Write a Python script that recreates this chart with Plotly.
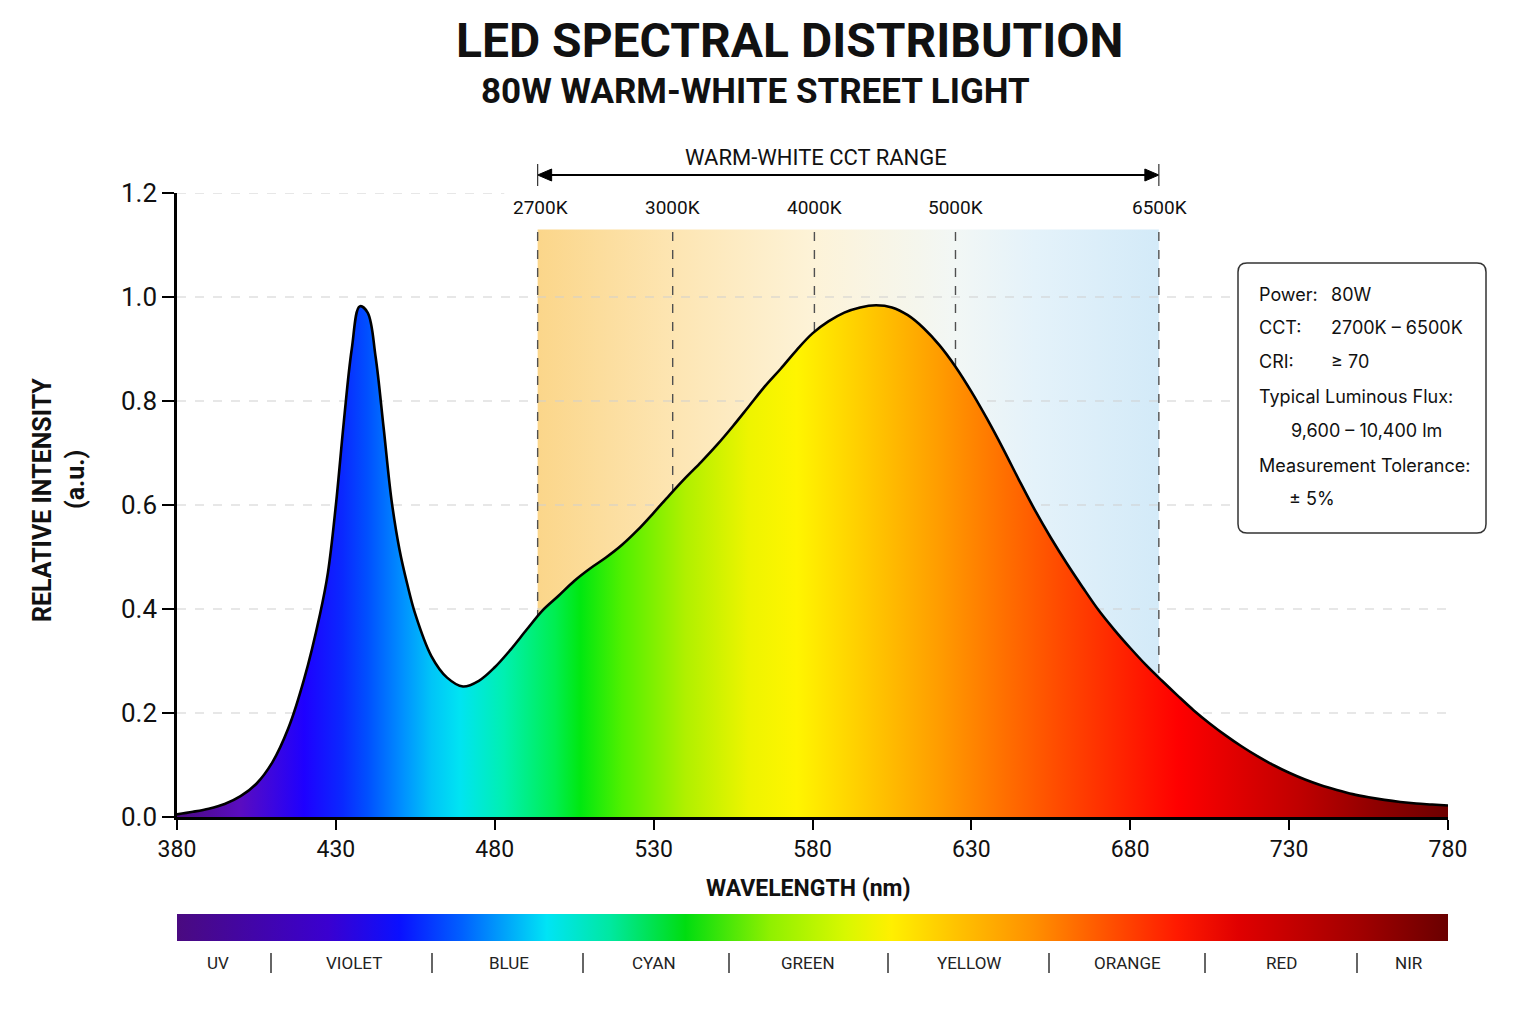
import plotly.graph_objects as go

# ---------------- data ----------------
wavelength = [380, 385, 390, 395, 400, 405, 410, 415, 420, 425, 427.5, 430, 432.5, 435, 437.5,
              440, 442.5, 445, 447.5, 450, 452.5, 455, 460, 465, 470, 475, 480, 485, 490, 495,
              500, 505, 510, 515, 520, 525, 530, 535, 540, 545, 550, 555, 560, 565, 570, 575,
              580, 585, 590, 595, 600, 605, 610, 615, 620, 625, 630, 635, 640, 645, 650, 655,
              660, 665, 670, 675, 680, 685, 690, 695, 700, 705, 710, 715, 720, 725, 730, 735,
              740, 745, 750, 755, 760, 765, 770, 775, 780]
intensity = [0.005, 0.010, 0.016, 0.025, 0.040, 0.064, 0.105, 0.170, 0.265, 0.390, 0.470, 0.600,
             0.760, 0.900, 0.982, 0.970, 0.885, 0.750, 0.610, 0.515, 0.447, 0.390, 0.310, 0.268,
             0.251, 0.262, 0.288, 0.322, 0.360, 0.397, 0.425, 0.454, 0.478, 0.499, 0.523, 0.552,
             0.585, 0.619, 0.652, 0.683, 0.716, 0.752, 0.790, 0.828, 0.862, 0.898, 0.930, 0.953,
             0.970, 0.980, 0.984, 0.980, 0.965, 0.940, 0.907, 0.866, 0.818, 0.765, 0.708, 0.648,
             0.590, 0.537, 0.488, 0.442, 0.398, 0.360, 0.325, 0.292, 0.262, 0.233, 0.205, 0.180,
             0.157, 0.136, 0.117, 0.100, 0.085, 0.072, 0.061, 0.052, 0.044, 0.038, 0.033, 0.029,
             0.026, 0.024, 0.022]

cct_labels = ["2700K", "3000K", "4000K", "5000K", "6500K"]
cct_wavelength = [493.5, 536, 580.6, 625, 689]
band_top = 1.13

x_ticks = [380, 430, 480, 530, 580, 630, 680, 730, 780]
y_ticks = [0.0, 0.2, 0.4, 0.6, 0.8, 1.0, 1.2]

region_labels = ["UV", "VIOLET", "BLUE", "CYAN", "GREEN", "YELLOW", "ORANGE", "RED", "NIR"]

info_rows = [("Power:", "80W"), ("CCT:", "2700K – 6500K"), ("CRI:", "≥ 70"),
             ("Typical Luminous Flux:", ""), ("", "9,600 – 10,400 lm"),
             ("Measurement Tolerance:", ""), ("", "± 5%")]

spectrum_colors = [
    (0.0, "#4b0a80"), (0.05, "#5a0cc0"), (0.10, "#1e00ff"), (0.13, "#0a28ff"),
    (0.15, "#0050ff"), (0.1775, "#0090ff"), (0.20, "#00c4f8"), (0.2225, "#00e4f2"),
    (0.2575, "#00f0b0"), (0.2975, "#00ee50"), (0.3175, "#00e810"), (0.35, "#50f000"),
    (0.40, "#b0f000"), (0.45, "#eef400"), (0.4875, "#fff500"), (0.525, "#ffd800"),
    (0.55, "#ffc400"), (0.60, "#ff9c00"), (0.65, "#ff7000"), (0.695, "#ff4a00"),
    (0.7375, "#ff2800"), (0.7875, "#ff0000"), (0.8375, "#dd0000"), (0.8825, "#c00000"),
    (0.9425, "#900000"), (1.0, "#6e0000")]

bar_colors = [
    (0.0, "#4a0a80"), (0.119, "#3a00d0"), (0.175, "#0a10ff"), (0.224, "#0060ff"),
    (0.291, "#00e4f5"), (0.341, "#00e8a0"), (0.40, "#00dd10"), (0.467, "#90f000"),
    (0.526, "#d8f800"), (0.562, "#fff000"), (0.616, "#ffc000"), (0.674, "#ff9000"),
    (0.734, "#ff5000"), (0.787, "#ff1a00"), (0.835, "#e00000"), (0.932, "#a00000"),
    (1.0, "#6a0000")]

band_colors = [(0.0, "#fbd68a"), (0.217, "#fde5b2"), (0.446, "#fdf3d8"),
               (0.673, "#f2f7f5"), (0.80, "#e4f2fa"), (1.0, "#d3eaf8")]

# ---------------- layout geometry ----------------
W, H = 1536, 1024
L, R, T, B = 177, 88, 193, 40
PW, PH = W - L - R, H - T - B
XMIN, XMAX = 380, 780


def px(p):  # pixel x -> paper
    return (p - L) / PW


def py(p):  # pixel y -> paper
    return (H - B - p) / PH


def nx(nm):  # wavelength -> paper x
    return (nm - XMIN) / (XMAX - XMIN)


FONT = "Roboto, 'DejaVu Sans', sans-serif"
INFO_FONT = "Inter, 'Open Sans', sans-serif"

fig = go.Figure()

# CCT band
fig.add_trace(go.Scatter(
    x=[cct_wavelength[0], cct_wavelength[-1]], y=[band_top, band_top], mode="none",
    fill="tozeroy", fillgradient=dict(type="horizontal", colorscale=band_colors),
    hoverinfo="skip"))

# gridlines (above band, below spectrum)
gx, gy = [], []
for v in y_ticks[1:]:
    x_end = XMAX if v < 1.1 else 483
    gx += [XMIN, x_end, None]
    gy += [v, v, None]
fig.add_trace(go.Scatter(x=gx, y=gy, mode="lines", hoverinfo="skip",
                         line=dict(color="#cfcfcf", width=1, dash="dash")))

# CCT dashed lines
cx, cy = [], []
for w in cct_wavelength:
    cx += [w, w, None]
    cy += [0, band_top, None]
fig.add_trace(go.Scatter(x=cx, y=cy, mode="lines", hoverinfo="skip",
                         line=dict(color="#505050", width=1.4, dash="dash")))

# spectrum
fig.add_trace(go.Scatter(
    x=wavelength, y=intensity, mode="lines",
    line=dict(color="black", width=2.6, shape="spline", smoothing=1.0),
    fill="tozeroy",
    fillgradient=dict(type="horizontal", colorscale=spectrum_colors, start=XMIN, stop=XMAX),
    hoverinfo="skip"))

# colour bar
fig.add_trace(go.Scatter(
    x=[XMIN, XMAX, XMAX, XMIN, XMIN], y=[0, 0, 1, 1, 0], mode="none", fill="toself",
    fillgradient=dict(type="horizontal", colorscale=bar_colors, start=XMIN, stop=XMAX),
    xaxis="x", yaxis="y2", hoverinfo="skip"))

y_dom0 = py(817)
fig.update_layout(
    width=W, height=H, margin=dict(l=L, r=R, t=T, b=B),
    paper_bgcolor="white", plot_bgcolor="white", showlegend=False, hovermode=False,
    xaxis=dict(range=[XMIN, XMAX], domain=[0, 1], anchor="y", tickvals=x_ticks,
               ticks="outside", ticklen=10, tickwidth=2, tickcolor="black",
               showline=True, linecolor="black", linewidth=2.5, showgrid=False, zeroline=False,
               tickfont=dict(family=FONT, size=23, color="#111")),
    yaxis=dict(range=[0, 1.2], domain=[y_dom0, 1], anchor="x", tickvals=y_ticks,
               ticktext=[f"{v:.1f}" for v in y_ticks],
               ticks="outside", ticklen=12, tickwidth=2, tickcolor="black",
               showline=True, linecolor="black", linewidth=2.5, showgrid=False, zeroline=False,
               tickfont=dict(family=FONT, size=26, color="#111")),
    yaxis2=dict(range=[0, 1], domain=[py(941), py(914)], anchor="x", visible=False,
                fixedrange=True),
)

ann = []
shapes = []


def label(xp, yp, text, size, family=FONT, color="#111", xanchor="center", angle=0):
    ann.append(dict(x=xp, y=yp, xref="paper", yref="paper", showarrow=False, text=text,
                    xanchor=xanchor, yanchor="middle", textangle=angle,
                    font=dict(family=family, size=size, color=color)))


# titles
label(px(789), py(40), "<b>LED SPECTRAL DISTRIBUTION</b>", 48)
label(px(755), py(91), "<b>80W WARM-WHITE STREET LIGHT</b>", 35)

# axis titles
label(px(42), py(500), "<b>RELATIVE INTENSITY</b>", 25, angle=-90)
label(px(75), py(480), "<b>(a.u.)</b>", 25, angle=-90)
label(px(808), py(888), "<b>WAVELENGTH (nm)</b>", 23)

# CCT header, arrow, labels
label(px(816), py(157), "WARM-WHITE CCT RANGE", 22)
label_shift = [3, 0, 0, 0, 1]
for lab, w, s in zip(cct_labels, cct_wavelength, label_shift):
    label(nx(w) + s / PW, py(207), lab, 19)

a0, a1 = nx(cct_wavelength[0]), nx(cct_wavelength[-1])
ya = py(175)
shapes.append(dict(type="line", xref="paper", yref="paper", x0=a0 + 4 / PW, x1=a1 - 4 / PW,
                   y0=ya, y1=ya, line=dict(color="black", width=2)))
hl, hh = 14 / PW, 6 / PH
shapes.append(dict(type="path", xref="paper", yref="paper",
                   path=f"M {a0},{ya} L {a0 + hl},{ya + hh} L {a0 + hl},{ya - hh} Z",
                   fillcolor="black", line=dict(color="black", width=1)))
shapes.append(dict(type="path", xref="paper", yref="paper",
                   path=f"M {a1},{ya} L {a1 - hl},{ya + hh} L {a1 - hl},{ya - hh} Z",
                   fillcolor="black", line=dict(color="black", width=1)))
for a in (a0, a1):
    shapes.append(dict(type="line", xref="paper", yref="paper", x0=a, x1=a,
                       y0=py(186), y1=py(164), line=dict(color="#333", width=1.2)))

# colour bar labels and separators
region_px = [218, 354, 509, 654, 808, 969, 1127, 1281, 1409]
separator_px = [271, 432, 583, 729, 888, 1049, 1205, 1357]
for lab, p in zip(region_labels, region_px):
    label(px(p), py(963), lab, 17, color="#222")
for p in separator_px:
    shapes.append(dict(type="line", xref="paper", yref="paper", x0=px(p), x1=px(p),
                       y0=py(973), y1=py(953), line=dict(color="#333", width=1.5)))

# info box
x0, x1, y0, y1 = px(1238), px(1486), py(533), py(263)
rx, ry = 9 / PW, 9 / PH
path = (f"M {x0 + rx},{y1} L {x1 - rx},{y1} Q {x1},{y1} {x1},{y1 - ry} "
        f"L {x1},{y0 + ry} Q {x1},{y0} {x1 - rx},{y0} L {x0 + rx},{y0} "
        f"Q {x0},{y0} {x0},{y0 + ry} L {x0},{y1 - ry} Q {x0},{y1} {x0 + rx},{y1} Z")
shapes.append(dict(type="path", xref="paper", yref="paper", path=path, fillcolor="white",
                   line=dict(color="#333", width=1.5), layer="above"))
row_py = [294, 327, 361, 396, 430, 465, 499]
indent_px = {"9,600 – 10,400 lm": 1289, "± 5%": 1287}
for (k, v), yy in zip(info_rows, row_py):
    if k:
        label(px(1257), py(yy), k, 18, family=INFO_FONT, xanchor="left")
    if v:
        label(px(indent_px.get(v, 1329)), py(yy), v, 18, family=INFO_FONT, xanchor="left")

fig.update_layout(annotations=ann, shapes=shapes)
fig.write_html("out.html")
